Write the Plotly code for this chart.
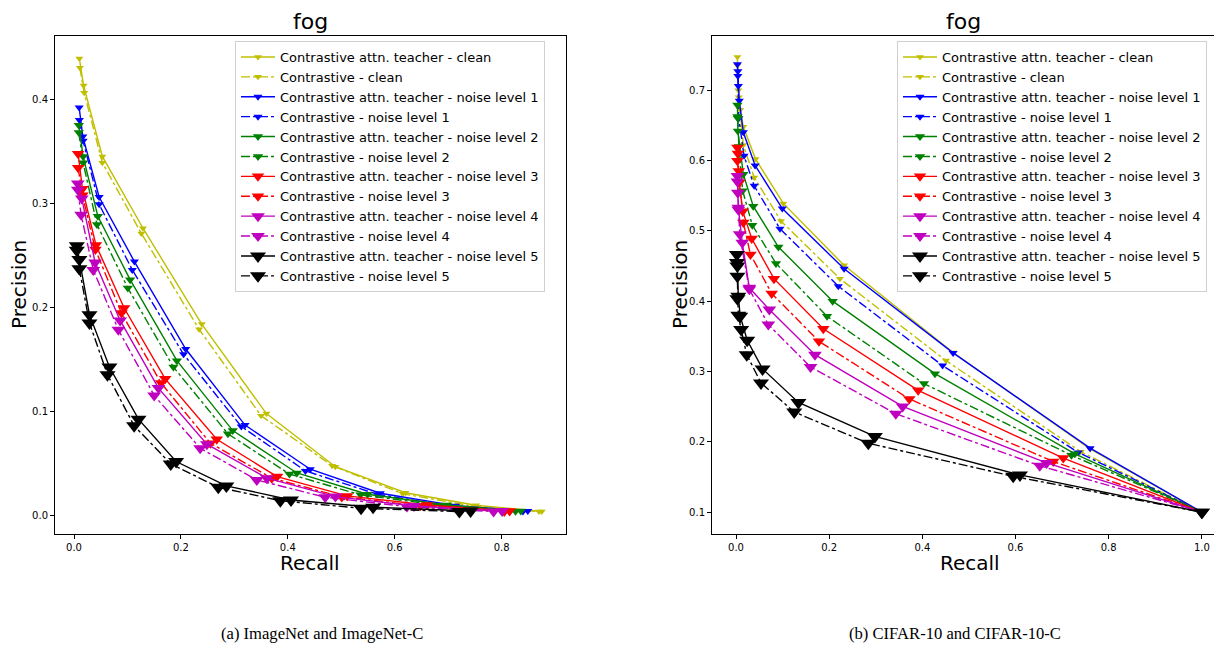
import plotly.graph_objects as go

W, H = 1214, 645

# ---------------- data: ImageNet / ImageNet-C (left) ----------------
in_attn_clean_r = [0.010, 0.018, 0.053, 0.129, 0.239, 0.360, 0.489, 0.620, 0.752, 0.875]
in_attn_clean_p = [0.439, 0.413, 0.345, 0.276, 0.184, 0.098, 0.047, 0.022, 0.010, 0.004]
in_con_clean_r = [0.011, 0.019, 0.053, 0.126, 0.234, 0.350, 0.483, 0.615, 0.748, 0.870]
in_con_clean_p = [0.430, 0.406, 0.339, 0.271, 0.179, 0.096, 0.048, 0.021, 0.009, 0.004]

in_attn_n1_r = [0.0096, 0.0165, 0.047, 0.113, 0.209, 0.320, 0.442, 0.573, 0.714, 0.849]
in_attn_n1_p = [0.392, 0.364, 0.306, 0.244, 0.160, 0.087, 0.0446, 0.0215, 0.0096, 0.0045]
in_con_n1_r = [0.010, 0.017, 0.047, 0.109, 0.205, 0.313, 0.433, 0.567, 0.705, 0.840]
in_con_n1_p = [0.380, 0.360, 0.299, 0.236, 0.155, 0.0856, 0.043, 0.0206, 0.009, 0.004]

in_attn_n2_r = [0.009, 0.017, 0.0446, 0.105, 0.1925, 0.297, 0.417, 0.549, 0.698, 0.836]
in_attn_n2_p = [0.375, 0.345, 0.2875, 0.2266, 0.1488, 0.0817, 0.041, 0.0206, 0.0103, 0.0045]
in_con_n2_r = [0.009, 0.017, 0.043, 0.1007, 0.186, 0.288, 0.403, 0.536, 0.686, 0.826]
in_con_n2_p = [0.368, 0.339, 0.2795, 0.2186, 0.1427, 0.0786, 0.040, 0.020, 0.0100, 0.0042]

in_attn_n3_r = [0.0077, 0.0157, 0.041, 0.0938, 0.1706, 0.267, 0.380, 0.511, 0.661, 0.815]
in_attn_n3_p = [0.3475, 0.314, 0.260, 0.1994, 0.1314, 0.0734, 0.0375, 0.019, 0.0103, 0.0045]
in_con_n3_r = [0.0077, 0.0157, 0.040, 0.0888, 0.163, 0.255, 0.370, 0.501, 0.648, 0.805]
in_con_n3_p = [0.334, 0.3077, 0.2555, 0.1946, 0.1273, 0.0696, 0.036, 0.018, 0.0095, 0.0039]

in_attn_n4_r = [0.0071, 0.0146, 0.0395, 0.0863, 0.158, 0.2486, 0.361, 0.489, 0.636, 0.801]
in_attn_n4_p = [0.319, 0.3045, 0.243, 0.1875, 0.1225, 0.0686, 0.036, 0.0183, 0.0093, 0.0045]
in_con_n4_r = [0.0071, 0.0133, 0.036, 0.083, 0.150, 0.236, 0.342, 0.470, 0.623, 0.785]
in_con_n4_p = [0.313, 0.289, 0.236, 0.1785, 0.1154, 0.0648, 0.0343, 0.0177, 0.0087, 0.0039]

in_attn_n5_r = [0.0052, 0.010, 0.0289, 0.0663, 0.1206, 0.191, 0.285, 0.406, 0.5595, 0.742]
in_attn_n5_p = [0.2593, 0.246, 0.193, 0.1427, 0.0927, 0.052, 0.0286, 0.0151, 0.0081, 0.0045]
in_con_n5_r = [0.0052, 0.010, 0.0289, 0.0626, 0.1125, 0.181, 0.270, 0.386, 0.537, 0.721]
in_con_n5_p = [0.2548, 0.237, 0.185, 0.1353, 0.0863, 0.0497, 0.0273, 0.0144, 0.0071, 0.0039]

# ---------------- data: CIFAR-10 / CIFAR-10-C (right) ----------------
cf_attn_clean_r = [0.003, 0.005, 0.009, 0.0157, 0.042, 0.1015, 0.232, 0.466, 0.760, 1.0]
cf_attn_clean_p = [0.747, 0.700, 0.672, 0.648, 0.602, 0.539, 0.451, 0.327, 0.190, 0.1]
cf_con_clean_r = [0.003, 0.006, 0.0157, 0.039, 0.0966, 0.223, 0.4506, 0.740, 1.0]
cf_con_clean_p = [0.735, 0.690, 0.622, 0.576, 0.514, 0.432, 0.3155, 0.186, 0.1]

cf_attn_n1_r = [0.003, 0.004, 0.005, 0.007, 0.0157, 0.041, 0.0994, 0.232, 0.466, 0.760, 1.0]
cf_attn_n1_p = [0.737, 0.727, 0.706, 0.685, 0.640, 0.593, 0.5316, 0.446, 0.3265, 0.191, 0.1]
cf_con_n1_r = [0.004, 0.006, 0.0172, 0.039, 0.0944, 0.2195, 0.4435, 0.7346, 1.0]
cf_con_n1_p = [0.720, 0.660, 0.6066, 0.564, 0.503, 0.4214, 0.3084, 0.185, 0.1]

cf_attn_n2_r = [0.003, 0.003, 0.004, 0.0157, 0.037, 0.091, 0.2075, 0.427, 0.7275, 1.0]
cf_attn_n2_p = [0.679, 0.6627, 0.642, 0.5805, 0.535, 0.477, 0.400, 0.297, 0.183, 0.1]
cf_con_n2_r = [0.004, 0.006, 0.0143, 0.035, 0.0858, 0.1954, 0.4034, 0.720, 1.0]
cf_con_n2_p = [0.660, 0.620, 0.557, 0.508, 0.4537, 0.3786, 0.2828, 0.181, 0.1]

cf_attn_n3_r = [0.003, 0.003, 0.007, 0.0143, 0.0337, 0.0815, 0.1874, 0.391, 0.7024, 1.0]
cf_attn_n3_p = [0.6185, 0.5995, 0.5687, 0.528, 0.489, 0.432, 0.3607, 0.2732, 0.177, 0.1]
cf_con_n3_r = [0.004, 0.006, 0.0157, 0.031, 0.0766, 0.178, 0.372, 0.681, 1.0]
cf_con_n3_p = [0.610, 0.585, 0.5117, 0.4665, 0.411, 0.343, 0.261, 0.172, 0.1]

cf_attn_n4_r = [0.003, 0.004, 0.005, 0.0135, 0.0286, 0.0715, 0.1695, 0.3577, 0.6667, 1.0]
cf_attn_n4_p = [0.578, 0.554, 0.533, 0.483, 0.419, 0.388, 0.324, 0.2504, 0.170, 0.1]
cf_con_n4_r = [0.003, 0.005, 0.008, 0.0286, 0.0693, 0.160, 0.343, 0.652, 1.0]
cf_con_n4_p = [0.570, 0.530, 0.495, 0.4169, 0.3668, 0.3065, 0.240, 0.166, 0.1]

cf_attn_n5_r = [0.002, 0.003, 0.003, 0.005, 0.009, 0.024, 0.057, 0.134, 0.298, 0.6094, 1.0]
cf_attn_n5_p = [0.4665, 0.4499, 0.4356, 0.407, 0.3786, 0.3444, 0.3037, 0.256, 0.2077, 0.153, 0.1]
cf_con_n5_r = [0.002, 0.003, 0.005, 0.011, 0.023, 0.0536, 0.125, 0.284, 0.595, 1.0]
cf_con_n5_p = [0.455, 0.4035, 0.380, 0.3597, 0.324, 0.2838, 0.2425, 0.198, 0.151, 0.1]

level_names = ["clean", "noise level 1", "noise level 2", "noise level 3", "noise level 4", "noise level 5"]
level_colors = ["#bfbf00", "#0000ff", "#008000", "#ff0000", "#bf00bf", "#000000"]
marker_sizes = [7, 8, 9, 11, 12, 14]

left_series = [
    (in_attn_clean_r, in_attn_clean_p, in_con_clean_r, in_con_clean_p),
    (in_attn_n1_r, in_attn_n1_p, in_con_n1_r, in_con_n1_p),
    (in_attn_n2_r, in_attn_n2_p, in_con_n2_r, in_con_n2_p),
    (in_attn_n3_r, in_attn_n3_p, in_con_n3_r, in_con_n3_p),
    (in_attn_n4_r, in_attn_n4_p, in_con_n4_r, in_con_n4_p),
    (in_attn_n5_r, in_attn_n5_p, in_con_n5_r, in_con_n5_p),
]
right_series = [
    (cf_attn_clean_r, cf_attn_clean_p, cf_con_clean_r, cf_con_clean_p),
    (cf_attn_n1_r, cf_attn_n1_p, cf_con_n1_r, cf_con_n1_p),
    (cf_attn_n2_r, cf_attn_n2_p, cf_con_n2_r, cf_con_n2_p),
    (cf_attn_n3_r, cf_attn_n3_p, cf_con_n3_r, cf_con_n3_p),
    (cf_attn_n4_r, cf_attn_n4_p, cf_con_n4_r, cf_con_n4_p),
    (cf_attn_n5_r, cf_attn_n5_p, cf_con_n5_r, cf_con_n5_p),
]

fig = go.Figure()


def add_panel(series, xa, ya, legend):
    for i, (ar, ap, cr, cp) in enumerate(series):
        col = level_colors[i]
        ms = marker_sizes[i]
        fig.add_trace(go.Scatter(
            x=ar, y=ap, mode="lines+markers", xaxis=xa, yaxis=ya, legend=legend,
            name="Contrastive attn. teacher - " + level_names[i],
            line=dict(color=col, width=1.4, dash="solid"),
            marker=dict(symbol="triangle-down", size=ms, color=col, line=dict(width=0)),
        ))
        fig.add_trace(go.Scatter(
            x=cr, y=cp, mode="lines+markers", xaxis=xa, yaxis=ya, legend=legend,
            name="Contrastive - " + level_names[i],
            line=dict(color=col, width=1.4, dash="dashdot"),
            marker=dict(symbol="triangle-down", size=ms, color=col, line=dict(width=0)),
        ))


add_panel(left_series, "x", "y", "legend")
add_panel(right_series, "x2", "y2", "legend2")

# pixel geometry
L_left, L_right = 54.5, 566.0
R_left, R_right = 711.5, 1214.0
top_px, bot_px = 36.0, 534.0

ydom = [1 - bot_px / H, 1 - top_px / H]

tickfont = dict(family="DejaVu Sans", size=10, color="#000000")
axis_common = dict(
    showline=True, linecolor="#000000", linewidth=1, mirror=True,
    ticks="outside", ticklen=3.5, tickcolor="#000000", tickwidth=1,
    showgrid=False, zeroline=False, tickfont=tickfont, tickformat=".1f",
)

legend_common = dict(
    font=dict(family="DejaVu Sans", size=13, color="#000000"),
    bgcolor="rgba(255,255,255,0.85)", bordercolor="#d0d0d0", borderwidth=1,
    tracegroupgap=0, itemwidth=34, yanchor="top", traceorder="normal",
)

fig.update_layout(
    width=W, height=H,
    margin=dict(l=0, r=0, t=0, b=0, autoexpand=False),
    paper_bgcolor="white", plot_bgcolor="white",
    showlegend=True,
    xaxis=dict(domain=[L_left / W, L_right / W], range=[-0.0365, 0.9205],
               tickvals=[0.0, 0.2, 0.4, 0.6, 0.8], anchor="y", **axis_common),
    yaxis=dict(domain=ydom, range=[-0.0176, 0.4606],
               tickvals=[0.0, 0.1, 0.2, 0.3, 0.4], anchor="x", **axis_common),
    xaxis2=dict(domain=[R_left / W, R_right / W], range=[-0.0526, 1.026],
                tickvals=[0.0, 0.2, 0.4, 0.6, 0.8, 1.0], anchor="y2", **axis_common),
    yaxis2=dict(domain=ydom, range=[0.069, 0.777],
                tickvals=[0.1, 0.2, 0.3, 0.4, 0.5, 0.6, 0.7], anchor="x2", **axis_common),
    legend=dict(x=235 / W, y=1 - 41 / H, xanchor="left", **legend_common),
    legend2=dict(x=897 / W, y=1 - 41 / H, xanchor="left", **legend_common),
)

label_font = dict(family="DejaVu Sans", size=20, color="#000000")
title_font = dict(family="DejaVu Sans", size=22, color="#000000")
cap_font = dict(family="Liberation Serif", size=16.6, color="#000000")

annots = [
    dict(text="fog", x=310 / W, y=1 - 22 / H, font=title_font),
    dict(text="fog", x=963 / W, y=1 - 22 / H, font=title_font),
    dict(text="Recall", x=310 / W, y=1 - 563 / H, font=label_font),
    dict(text="Recall", x=970 / W, y=1 - 563 / H, font=label_font),
    dict(text="Precision", x=19 / W, y=1 - 285 / H, font=label_font, textangle=-90),
    dict(text="Precision", x=680 / W, y=1 - 285 / H, font=label_font, textangle=-90),
    dict(text="(a) ImageNet and ImageNet-C", x=322 / W, y=1 - 633 / H, font=cap_font),
    dict(text="(b) CIFAR-10 and CIFAR-10-C", x=955 / W, y=1 - 633 / H, font=cap_font),
]
for a in annots:
    fig.add_annotation(xref="paper", yref="paper", showarrow=False,
                       xanchor="center", yanchor="middle", **a)

fig.write_html("out.html")
